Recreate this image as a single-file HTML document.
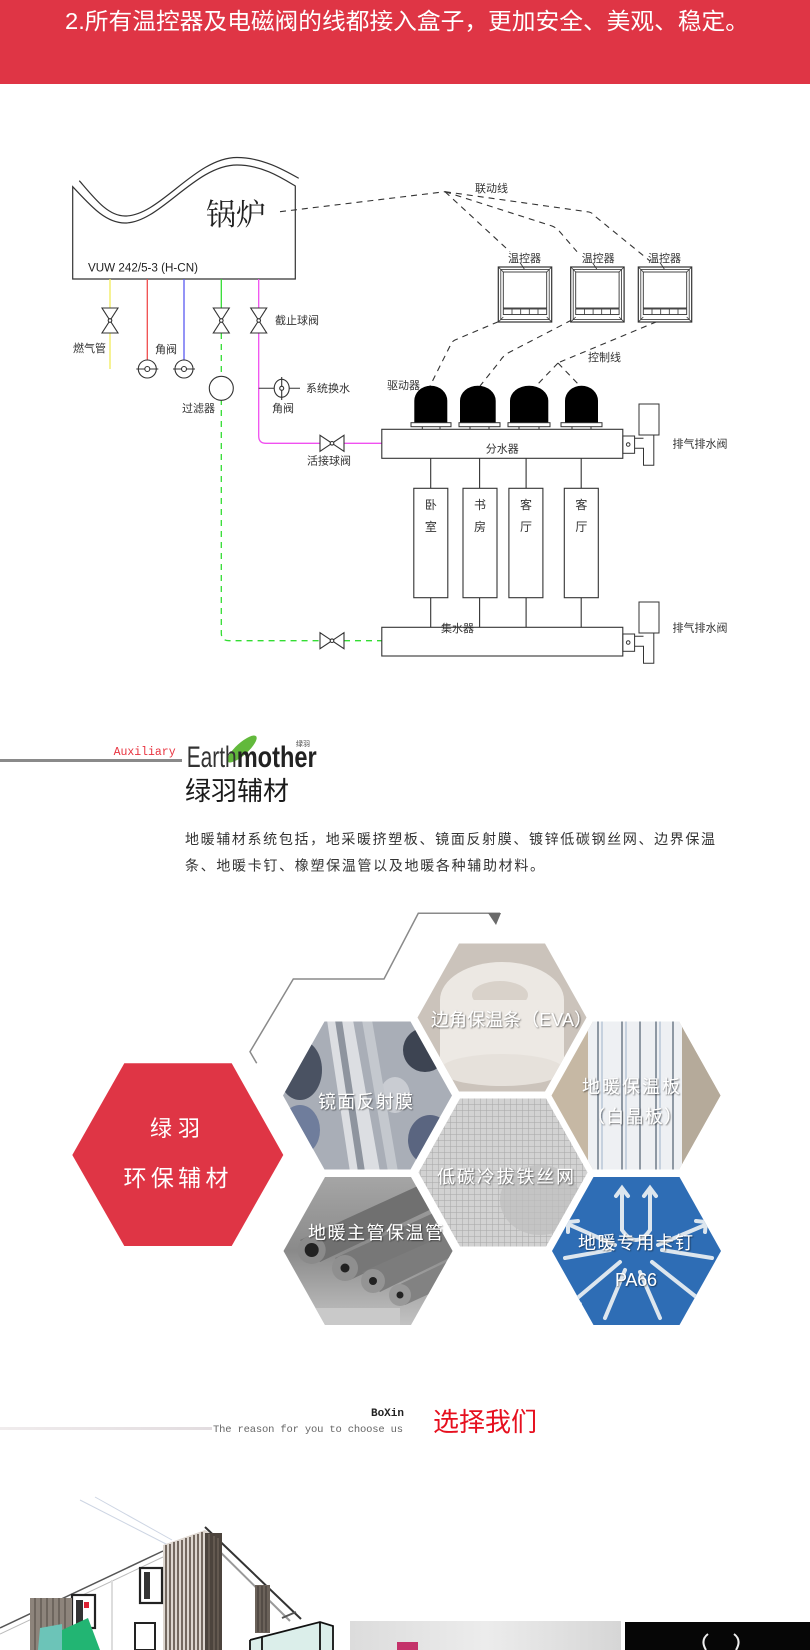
<!DOCTYPE html>
<html><head><meta charset="utf-8">
<style>
html,body{margin:0;padding:0;background:#fff;width:810px;height:1650px;overflow:hidden}
svg{position:absolute;left:0;top:0;display:block}
.l{font-family:"Liberation Sans","Noto Sans CJK SC",sans-serif;font-size:11px;fill:#333}
.s{font-family:"Liberation Sans","Noto Sans CJK SC",sans-serif}
.m{font-family:"Liberation Mono","Noto Sans CJK SC",monospace}
.ht{font-family:"Liberation Sans","Noto Sans CJK SC",sans-serif;fill:#fff;font-size:18px;filter:url(#ts)}
</style></head><body>
<svg width="810" height="1650" viewBox="0 0 810 1650" xmlns="http://www.w3.org/2000/svg">
<defs>
<filter id="ts" x="-10%" y="-30%" width="120%" height="160%"><feDropShadow dx="0.8" dy="0.8" stdDeviation="0.7" flood-color="#000" flood-opacity="0.6"/></filter>
<pattern id="mesh" width="6" height="6" patternUnits="userSpaceOnUse"><rect width="6" height="6" fill="#d0d0d0"/><path d="M0 0H6M0 0V6" stroke="#8e8e8e" stroke-width="1"/></pattern>
<linearGradient id="tubeg" x1="0" y1="0" x2="0" y2="1"><stop offset="0" stop-color="#a6a6a6"/><stop offset="0.5" stop-color="#8a8a8a"/><stop offset="1" stop-color="#c4c4c4"/></linearGradient>
<linearGradient id="grayph" x1="0" y1="0" x2="1" y2="0"><stop offset="0" stop-color="#dcdcdc"/><stop offset="0.5" stop-color="#ececec"/><stop offset="1" stop-color="#d6d6d6"/></linearGradient>
<linearGradient id="gline" x1="0" y1="0" x2="1" y2="0"><stop offset="0" stop-color="#f0eced"/><stop offset="1" stop-color="#e2dcdf"/></linearGradient>
<clipPath id="cA"><polygon points="324.5,1021.5 410.5,1021.5 452,1095.5 410.5,1169.5 324.5,1169.5 283,1095.5"/></clipPath>
<clipPath id="cB"><polygon points="325,1177 411,1177 452.5,1251 411,1325 325,1325 283.5,1251"/></clipPath>
<clipPath id="cC"><polygon points="459,943.5 545,943.5 586.5,1017.5 545,1091.5 459,1091.5 417.5,1017.5"/></clipPath>
<clipPath id="cD"><polygon points="460,1098.5 546,1098.5 587.5,1172.5 546,1246.5 460,1246.5 418.5,1172.5"/></clipPath>
<clipPath id="cE"><polygon points="593,1021.5 679,1021.5 720.5,1095.5 679,1169.5 593,1169.5 551.5,1095.5"/></clipPath>
<clipPath id="cF"><polygon points="593.5,1177 679.5,1177 721,1251 679.5,1325 593.5,1325 552,1251"/></clipPath>
</defs>

<!-- Banner -->
<rect x="0" y="0" width="810" height="84" fill="#df3545"/>
<text x="65" y="29" class="s" font-size="23" fill="#fff" textLength="684" lengthAdjust="spacingAndGlyphs">2.所有温控器及电磁阀的线都接入盒子，更加安全、美观、稳定。</text>

<!-- Boiler -->
<g fill="none" stroke="#333" stroke-width="1.2">
<path d="M72.7,186.7 C90,205 105,223 125,223 C160,223 195,165 237,165 C262,165 282,178 295.3,186 L295.3,279 L72.7,279 Z" fill="#fff"/>
<path d="M79.3,180.7 C95,199 108,216 125,216 C160,216 195,157.5 237,157.5 C262,157.5 284,170 298.7,178.3"/>
</g>
<text x="206" y="225" font-size="30" fill="#222" style="font-family:'Liberation Serif','Noto Serif CJK SC',serif">锅炉</text>
<text x="88" y="271.5" font-size="11.5" fill="#222" class="s" textLength="110" lengthAdjust="spacingAndGlyphs">VUW 242/5-3 (H-CN)</text>

<!-- Pipes -->
<g stroke-width="1.3" fill="none">
<path d="M110,279V308M110,333V369" stroke="#f2ec5a"/>
<path d="M147.3,279V360" stroke="#ef4c4c"/>
<path d="M184,279V360" stroke="#5a5af0"/>
<path d="M221.3,279V308" stroke="#33dd33"/>
<path d="M221.3,333V633Q221.3,640.7 229,640.7H320M344,640.7H381.8" stroke="#33dd33" stroke-dasharray="6,5"/>
<path d="M258.7,279V308M258.7,333V436Q258.7,443.3 266,443.3H320M344,443.3H381.8" stroke="#f050f0"/>
<path d="M258.7,388.3H300" stroke="#333" stroke-width="1"/>
</g>

<!-- valves -->
<g stroke="#333" stroke-width="1.1" fill="#fff">
<path d="M102,308H118L110,320.5ZM102,333H118L110,320.5Z"/>
<path d="M213.3,308H229.3L221.3,320.5ZM213.3,333H229.3L221.3,320.5Z"/>
<path d="M250.7,308H266.7L258.7,320.5ZM250.7,333H266.7L258.7,320.5Z"/>
<circle cx="110" cy="320.5" r="1.8"/><circle cx="221.3" cy="320.5" r="1.8"/><circle cx="258.7" cy="320.5" r="1.8"/>
<path d="M320,435.3V451.3L332,443.3ZM344,435.3V451.3L332,443.3Z"/><circle cx="332" cy="443.3" r="1.8"/>
<path d="M320,632.7V648.7L332,640.7ZM344,632.7V648.7L332,640.7Z"/><circle cx="332" cy="640.7" r="1.8"/>
<circle cx="147.3" cy="369" r="9"/><path d="M136.3,369H158.3" fill="none"/><circle cx="147.3" cy="369" r="2.5"/>
<circle cx="184" cy="369" r="9"/><path d="M173,369H195" fill="none"/><circle cx="184" cy="369" r="2.5"/>
<circle cx="221.3" cy="388.3" r="12"/>
<ellipse cx="281.7" cy="388.3" rx="7.5" ry="9"/><path d="M281.7,377V400" fill="none"/><circle cx="281.7" cy="388.3" r="2"/>
</g>

<!-- labels left -->
<text x="73" y="352" class="l">燃气管</text>
<text x="155" y="353" class="l">角阀</text>
<text x="275" y="324" class="l">截止球阀</text>
<text x="182" y="412" class="l">过滤器</text>
<text x="306" y="392" class="l">系统换水</text>
<text x="272" y="412" class="l">角阀</text>
<text x="307" y="464.5" class="l">活接球阀</text>
<text x="387" y="389" class="l">驱动器</text>
<text x="475" y="192" class="l">联动线</text>
<text x="588" y="361" class="l">控制线</text>

<!-- dashed link lines -->
<g fill="none" stroke="#333" stroke-width="1.1" stroke-dasharray="6,5">
<path d="M280,211.7L445,191.7"/>
<path d="M445,191.7L510,251.7"/>
<path d="M445,191.7L552,226Q557,228 560,232L577,251.7"/>
<path d="M445,191.7L589,212Q593,213 596,217L650,261"/>
<path d="M498.3,321.7L455,340Q451,342 450,346L430,386"/>
<path d="M571.7,320L508,353Q503,356 500,361L480,386"/>
<path d="M656.7,321.7L560,362M558,363L536,386M558,363L580,386"/>
</g>

<!-- thermostats -->
<g id="th" stroke="#333" fill="none">
<g transform="translate(498.3,267)">
<rect x="0" y="0" width="53.4" height="55" fill="#fff" stroke-width="1.2"/>
<rect x="2.5" y="2.5" width="48.4" height="50" stroke-width="0.8"/>
<rect x="5" y="5" width="43.4" height="36" stroke-width="0.9"/>
<rect x="5" y="42" width="43.4" height="5.5" stroke-width="0.9"/>
<path d="M13.7,42V47.5M22.4,42V47.5M31,42V47.5M39.7,42V47.5M0,0L5,5M53.4,0L48.4,5M0,55L5,50M53.4,55L48.4,50M22,-4L26,2" stroke-width="0.8"/>
</g>
<g transform="translate(570.7,267)">
<rect x="0" y="0" width="53.4" height="55" fill="#fff" stroke-width="1.2"/>
<rect x="2.5" y="2.5" width="48.4" height="50" stroke-width="0.8"/>
<rect x="5" y="5" width="43.4" height="36" stroke-width="0.9"/>
<rect x="5" y="42" width="43.4" height="5.5" stroke-width="0.9"/>
<path d="M13.7,42V47.5M22.4,42V47.5M31,42V47.5M39.7,42V47.5M0,0L5,5M53.4,0L48.4,5M0,55L5,50M53.4,55L48.4,50M22,-4L26,2" stroke-width="0.8"/>
</g>
<g transform="translate(638.3,267)">
<rect x="0" y="0" width="53.4" height="55" fill="#fff" stroke-width="1.2"/>
<rect x="2.5" y="2.5" width="48.4" height="50" stroke-width="0.8"/>
<rect x="5" y="5" width="43.4" height="36" stroke-width="0.9"/>
<rect x="5" y="42" width="43.4" height="5.5" stroke-width="0.9"/>
<path d="M13.7,42V47.5M22.4,42V47.5M31,42V47.5M39.7,42V47.5M0,0L5,5M53.4,0L48.4,5M0,55L5,50M53.4,55L48.4,50M22,-4L26,2" stroke-width="0.8"/>
</g>
</g>
<text x="508" y="262" class="l">温控器</text>
<text x="581.7" y="262" class="l">温控器</text>
<text x="648" y="262" class="l">温控器</text>

<!-- drivers -->
<g fill="#000">
<path d="M414.3,422.7V400.7A16.5,15 0 0 1 447.3,400.7V422.7Z"/>
<path d="M460,422.7V400.7A17.85,15 0 0 1 495.7,400.7V422.7Z"/>
<path d="M510,422.7V400.7A19.15,15 0 0 1 548.3,400.7V422.7Z"/>
<path d="M565,422.7V400.7A16.5,15 0 0 1 598,400.7V422.7Z"/>
</g>
<g fill="#fff" stroke="#333" stroke-width="1">
<rect x="411" y="422.7" width="40" height="4"/>
<rect x="459" y="422.7" width="41" height="4"/>
<rect x="508" y="422.7" width="42" height="4"/>
<rect x="561" y="422.7" width="41" height="4"/>
<path d="M422.3,426.7V429.3M440,426.7V429.3M470,426.7V429.3M489,426.7V429.3M519,426.7V429.3M539,426.7V429.3M572,426.7V429.3M591,426.7V429.3" fill="none"/>
</g>

<!-- manifolds -->
<g fill="#fff" stroke="#333" stroke-width="1.1">
<rect x="381.8" y="429.3" width="241" height="29"/>
<rect x="381.8" y="627.3" width="241" height="28.7"/>
<rect x="413.8" y="488.3" width="34" height="109.4"/>
<rect x="463" y="488.3" width="34" height="109.4"/>
<rect x="508.9" y="488.3" width="34" height="109.4"/>
<rect x="564.3" y="488.3" width="34" height="109.4"/>
<path d="M430.7,458.3V488.3M479.6,458.3V488.3M526.1,458.3V488.3M581.2,458.3V488.3M430.7,597.7V627.3M479.6,597.7V627.3M526.1,597.7V627.3M581.2,597.7V627.3" fill="none"/>
</g>
<text x="502.3" y="452.5" class="l" text-anchor="middle">分水器</text>
<text x="441" y="632" class="l">集水器</text>
<g class="l" style="font-size:12px" text-anchor="middle">
<text x="430.9" y="509">卧</text><text x="430.9" y="531">室</text>
<text x="480" y="509">书</text><text x="480" y="531">房</text>
<text x="526" y="509">客</text><text x="526" y="531">厅</text>
<text x="581.4" y="509">客</text><text x="581.4" y="531">厅</text>
</g>

<!-- vent valves -->
<g id="vent" fill="#fff" stroke="#333" stroke-width="1">
<rect x="622.9" y="436" width="11.7" height="17.3"/>
<circle cx="628.2" cy="444.5" r="1.8"/>
<path d="M634.6,438.3H643.5M634.6,448.3H643.5V465.3H653.8V435" fill="none"/>
<rect x="639" y="404" width="20" height="31"/>
</g>
<g transform="translate(0,198)" fill="#fff" stroke="#333" stroke-width="1">
<rect x="622.9" y="436" width="11.7" height="17.3"/>
<circle cx="628.2" cy="444.5" r="1.8"/>
<path d="M634.6,438.3H643.5M634.6,448.3H643.5V465.3H653.8V435" fill="none"/>
<rect x="639" y="404" width="20" height="31"/>
</g>
<text x="672.5" y="447.5" class="l" textLength="55">排气排水阀</text>
<text x="672.5" y="631.5" class="l" textLength="55">排气排水阀</text>

<!-- Section 2 header -->
<rect x="0" y="759" width="182" height="3" fill="#8a8a8a"/>
<text x="113.6" y="755" class="m" font-size="11.5" fill="#e8333f" textLength="62">Auxiliary</text>
<ellipse cx="242" cy="749" rx="19" ry="6" fill="#62b93c" transform="rotate(-42 242 749)"/>
<text x="186.7" y="767" class="s" font-size="30" fill="#333" textLength="50" lengthAdjust="spacingAndGlyphs">Earth</text>
<text x="236.7" y="767" class="s" font-size="30" font-weight="bold" fill="#222" textLength="80" lengthAdjust="spacingAndGlyphs">mother</text>
<text x="296" y="746" class="s" font-size="7" fill="#444">绿羽</text>
<text x="185" y="800" class="s" font-size="26" fill="#1a1a1a" textLength="104">绿羽辅材</text>
<text x="185" y="844" class="s" font-size="14" fill="#333" textLength="530">地暖辅材系统包括，地采暖挤塑板、镜面反射膜、镀锌低碳钢丝网、边界保温</text>
<text x="185" y="870.5" class="s" font-size="14" fill="#333" textLength="359">条、地暖卡钉、橡塑保温管以及地暖各种辅助材料。</text>

<!-- zigzag -->
<polyline points="256.7,1063.3 250,1051.7 293.3,979 384,979 418.3,913.3 500,913.3" fill="none" stroke="#8a8a8a" stroke-width="1.5"/>
<polygon points="488,913 501,913 496,925" fill="#6a6a6a"/>

<!-- Red hexagon -->
<polygon points="124.3,1063.3 231.7,1063.3 283.3,1155 231.7,1246 124.3,1246 72.3,1155" fill="#df3545"/>
<text x="175" y="1136" class="s" font-size="22" fill="#fff" text-anchor="middle" textLength="50">绿羽</text>
<text x="176" y="1186" class="s" font-size="23" fill="#fff" text-anchor="middle" textLength="105">环保辅材</text>

<!-- Hex A: mirror film -->
<g clip-path="url(#cA)">
<rect x="280" y="1020" width="175" height="152" fill="#a9aeb7"/>
<ellipse cx="300" cy="1070" rx="22" ry="30" fill="#4a5262"/>
<ellipse cx="300" cy="1130" rx="20" ry="25" fill="#6f7d9c"/>
<ellipse cx="425" cy="1050" rx="22" ry="22" fill="#3d4452"/>
<ellipse cx="430" cy="1140" rx="22" ry="25" fill="#5a6580"/>
<ellipse cx="395" cy="1095" rx="15" ry="18" fill="#c9ccd2"/>
<polygon points="327,1020 353,1020 380,1172 350,1172" fill="#dcdee2"/>
<polygon points="335,1020 342,1020 365,1172 358,1172" fill="#8e949e"/>
<polygon points="362,1020 372,1020 398,1172 388,1172" fill="#c4c8ce"/>
</g>
<!-- Hex B: tubes -->
<g clip-path="url(#cB)">
<rect x="280" y="1175" width="175" height="152" fill="url(#tubeg)"/>
<polygon points="300,1240 420,1185 440,1205 320,1262" fill="#707070"/>
<polygon points="335,1258 440,1210 452,1232 350,1280" fill="#777"/>
<polygon points="362,1272 452,1232 455,1255 380,1292" fill="#7c7c7c"/>
<polygon points="392,1288 455,1258 455,1282 405,1305" fill="#828282"/>
<circle cx="311.7" cy="1250" r="14" fill="#8a8a8a"/><circle cx="311.7" cy="1250" r="7" fill="#222"/>
<circle cx="345" cy="1268" r="13" fill="#8f8f8f"/><circle cx="345" cy="1268" r="4.5" fill="#222"/>
<circle cx="373" cy="1281" r="12" fill="#949494"/><circle cx="373" cy="1281" r="4" fill="#222"/>
<circle cx="400" cy="1295" r="11" fill="#999"/><circle cx="400" cy="1295" r="3.5" fill="#222"/>
<rect x="280" y="1308" width="120" height="20" fill="#c9c9c9"/>
</g>
<!-- Hex C: EVA strip -->
<g clip-path="url(#cC)">
<rect x="415" y="940" width="175" height="155" fill="#cbc3bb"/>
<ellipse cx="502" cy="1000" rx="62" ry="38" fill="#ece8e3"/>
<ellipse cx="500" cy="995" rx="28" ry="14" fill="#d9d2ca"/>
<rect x="440" y="1000" width="124" height="70" fill="#ede9e4"/>
<ellipse cx="502" cy="1070" rx="62" ry="16" fill="#e6e1db"/>
</g>
<!-- Hex D: mesh -->
<g clip-path="url(#cD)">
<rect x="415" y="1095" width="175" height="155" fill="url(#mesh)"/>
<rect x="415" y="1095" width="175" height="155" fill="#d8d8d8" opacity="0.35"/>
<ellipse cx="540" cy="1200" rx="40" ry="35" fill="#bdbdbd" opacity="0.7"/>
</g>
<!-- Hex E: board -->
<g clip-path="url(#cE)">
<rect x="548" y="1018" width="176" height="155" fill="#c6b8a4"/>
<rect x="588" y="1018" width="94" height="155" fill="#eef0f3"/>
<path d="M598,1018V1172M622,1018V1172M640,1018V1172M656,1018V1172M673,1018V1172" stroke="#5a6878" stroke-width="1.3"/>
<path d="M602,1018V1172M626,1018V1172M660,1018V1172" stroke="#9fb2c8" stroke-width="1"/>
<rect x="682" y="1018" width="42" height="155" fill="#b5aa9a"/>
</g>
<!-- Hex F: clips -->
<g clip-path="url(#cF)">
<rect x="548" y="1175" width="176" height="152" fill="#2e6db5"/>
<g stroke="#dde6ee" stroke-width="4" fill="none" stroke-linecap="round">
<path d="M622,1190V1230Q636,1250 650,1230V1190"/>
<path d="M616,1196L622,1188L628,1196M644,1196L650,1188L656,1196"/>
<path d="M615,1245L570,1225M568,1232L568,1222L578,1221"/>
<path d="M658,1245L705,1225M705,1232L706,1222L696,1221"/>
<path d="M620,1262L575,1300M580,1304L573,1302L572,1293"/>
<path d="M652,1262L700,1300M694,1304L701,1302L702,1293"/>
<path d="M625,1270L605,1318M640,1272L660,1318M610,1250L565,1258M662,1250L712,1258"/>
</g>
</g>

<text x="318" y="1108" class="ht" textLength="95">镜面反射膜</text>
<text x="308" y="1239" class="ht" textLength="135">地暖主管保温管</text>
<text x="431" y="1026" class="ht" textLength="161">边角保温条（EVA）</text>
<text x="582" y="1093" class="ht" textLength="98">地暖保温板</text>
<text x="587" y="1123" class="ht" textLength="95">（白晶板）</text>
<text x="437" y="1183" class="ht" textLength="137">低碳冷拔铁丝网</text>
<text x="578" y="1249" class="ht" textLength="115">地暖专用卡钉</text>
<text x="615" y="1286" class="ht" font-size="16" textLength="42">PA66</text>

<!-- Section 3 header -->
<rect x="0" y="1427" width="212" height="3" fill="url(#gline)"/>
<text x="404" y="1416" class="m" font-size="11" font-weight="bold" fill="#222" text-anchor="end">BoXin</text>
<text x="213" y="1432" class="m" font-size="10.5" fill="#666" textLength="190">The reason for you to choose us</text>
<text x="433" y="1431" class="s" font-size="26" fill="#e60f1e" textLength="104">选择我们</text>

<!-- building photo -->
<g>
<path d="M80,1500L168,1545M95,1497L172,1540" stroke="#cdd5e3" stroke-width="1"/>
<path d="M0,1628L163,1551" stroke="#555" stroke-width="1.5"/>
<path d="M0,1634L163,1557" stroke="#bbb" stroke-width="1"/>
<path d="M205,1527L301,1619" stroke="#333" stroke-width="2"/>
<path d="M202,1534L290,1621" stroke="#999" stroke-width="2"/>
<polygon points="163,1545 205,1530 222,1540 222,1650 163,1650" fill="#ddd6cf"/>
<path d="M166,1545V1650M170,1544V1650M174,1542V1650M178,1541V1650M182,1540V1650M186,1538V1650M190,1537V1650M194,1535V1650M198,1534V1650M202,1532V1650" stroke="#5a4e44" stroke-width="1.6"/>
<rect x="205" y="1533" width="17" height="117" fill="#4c443d"/>
<path d="M209,1534V1650M214,1536V1650M218,1538V1650" stroke="#7a6e64" stroke-width="1"/>
<rect x="140" y="1568" width="22" height="35" fill="#fff" stroke="#222" stroke-width="2.2"/>
<rect x="144" y="1572" width="6" height="27" fill="#333"/>
<rect x="72" y="1595" width="23" height="33" fill="#fff" stroke="#222" stroke-width="2.2"/>
<rect x="76" y="1600" width="7" height="24" fill="#333"/><rect x="84" y="1602" width="5" height="6" fill="#d23"/>
<rect x="135" y="1623" width="20" height="27" fill="#fff" stroke="#222" stroke-width="2"/>
<rect x="255" y="1585" width="15" height="48" fill="#6b625a"/>
<path d="M258,1586V1632M262,1586V1632M266,1586V1632" stroke="#3c3631" stroke-width="1"/>
<rect x="30" y="1598" width="42" height="52" fill="#8d847b"/>
<path d="M35,1598V1650M41,1598V1650M47,1598V1650M53,1598V1650M59,1598V1650M65,1598V1650" stroke="#5a524a" stroke-width="1.2"/>
<polygon points="40,1628 62,1624 63,1650 38,1650" fill="#6cc4b8"/>
<polygon points="62,1630 88,1618 100,1650 62,1650" fill="#22b573"/>
<path d="M112,1580V1650" stroke="#ddd" stroke-width="2"/>
<polygon points="250,1640 320,1622 333,1626 333,1650 250,1650" fill="#dbeeea"/>
<path d="M250,1640L320,1622L333,1626V1650M320,1622V1650M250,1640V1650M262,1650L262,1637" stroke="#111" stroke-width="1.8" fill="none"/>
<path d="M282,1618L296,1612" stroke="#555" stroke-width="2"/>
</g>
<!-- gray photo -->
<rect x="350" y="1621" width="271" height="29" fill="url(#grayph)"/>
<rect x="397" y="1642" width="21" height="8" fill="#c4326a"/>
<!-- black photo -->
<rect x="625" y="1622" width="185" height="28" fill="#060606"/>
<path d="M706,1650Q700,1640 708,1634M736,1650Q742,1640 734,1634" stroke="#eee" stroke-width="2" fill="none"/>
</svg>
</body></html>
